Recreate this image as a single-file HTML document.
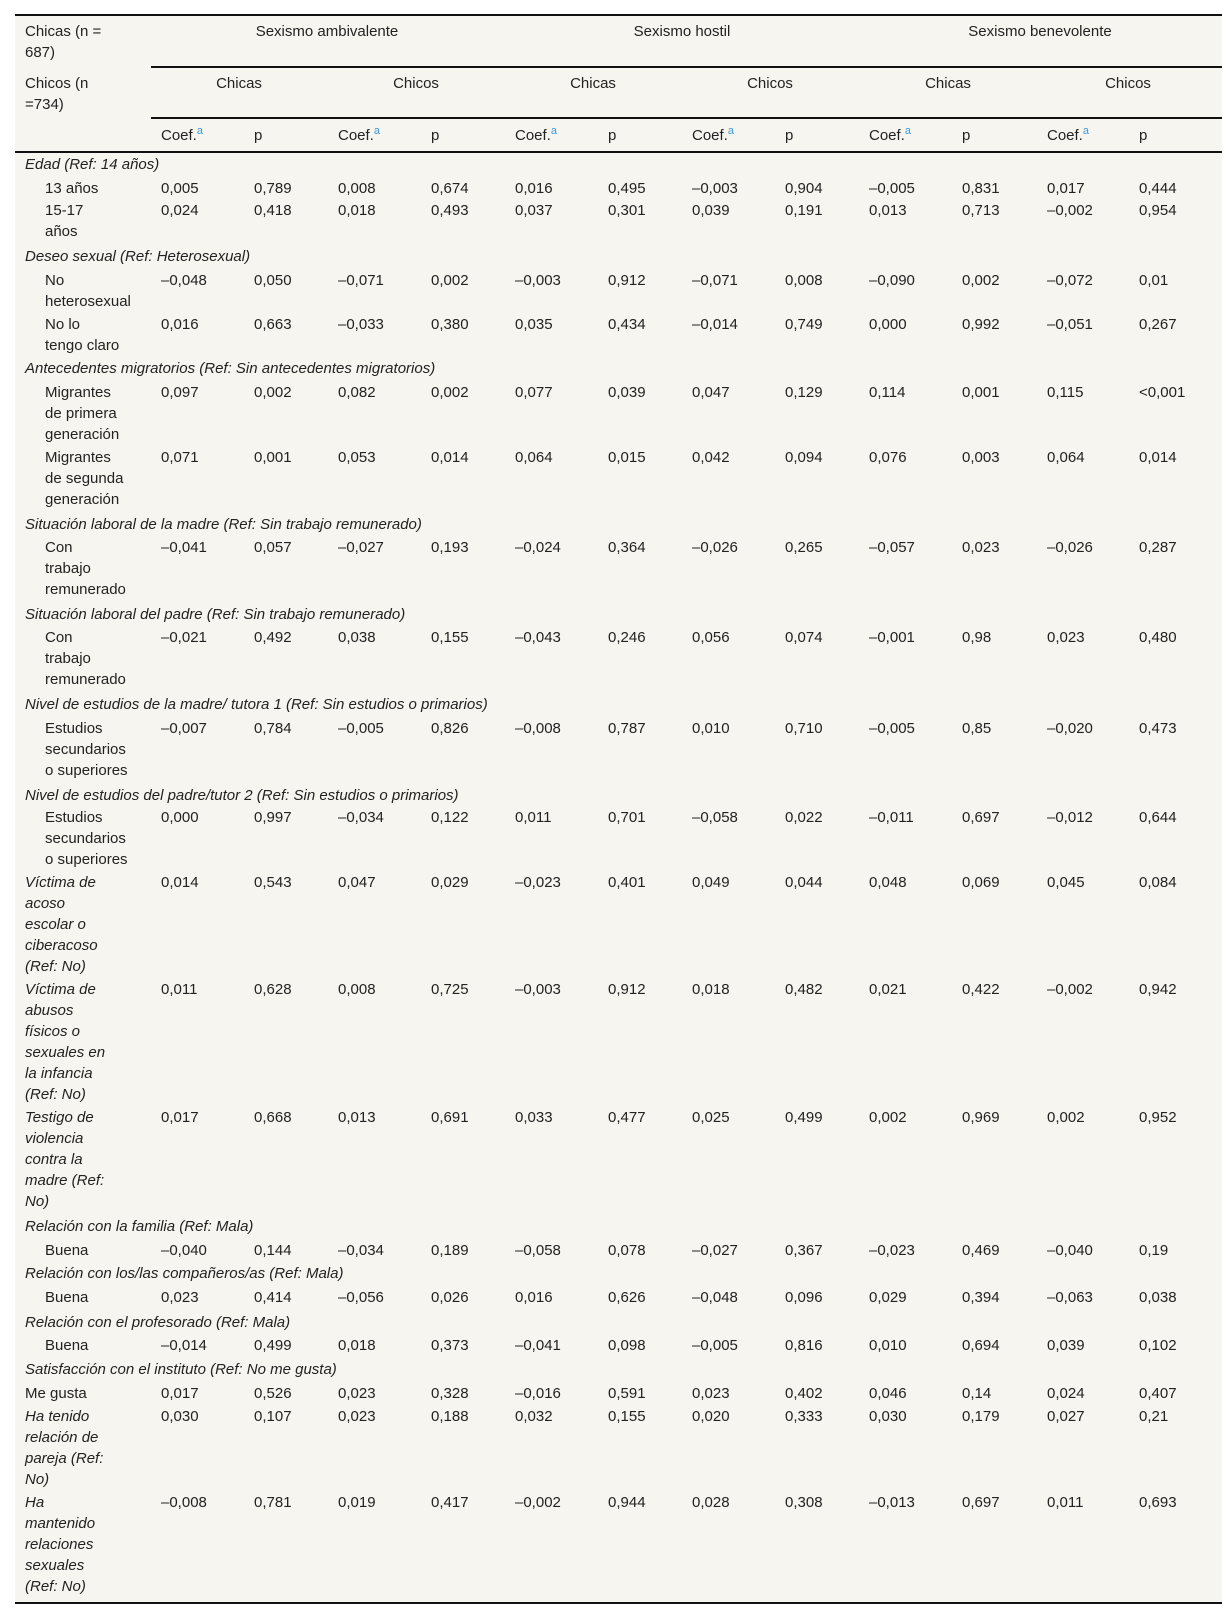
<!DOCTYPE html>
<html><head><meta charset="utf-8">
<style>
html,body{margin:0;padding:0;background:#fff;}
#wrap{position:relative;width:1222px;height:1619px;overflow:hidden;font-family:"Liberation Sans",Arial,sans-serif;font-size:15px;color:#222;}
#bg{position:absolute;left:15px;top:15px;width:1207px;height:1588px;background:#f7f5ef;}
.ln{position:absolute;height:2px;background:#111;}
.t{position:absolute;line-height:21px;white-space:nowrap;}
.c{transform:translateX(-50%);}
.i{font-style:italic;}
sup{color:#3a9ad9;font-size:11px;vertical-align:baseline;position:relative;top:-6px;line-height:0;}
</style></head><body>
<div id="wrap">
<div id="bg"></div>
<div class="ln" style="left:15px;top:14px;width:1207px"></div>
<div class="ln" style="left:151px;top:66px;width:1071px"></div>
<div class="ln" style="left:151px;top:117px;width:1071px"></div>
<div class="ln" style="left:15px;top:151px;width:1207px"></div>
<div class="ln" style="left:15px;top:1602px;width:1207px"></div>
<div class="t" style="left:25px;top:21px">Chicas (n =<br>687)</div>
<div class="t" style="left:25px;top:73px">Chicos (n<br>=734)</div>
<div class="t c" style="left:327px;top:21px">Sexismo ambivalente</div>
<div class="t c" style="left:682px;top:21px">Sexismo hostil</div>
<div class="t c" style="left:1040px;top:21px">Sexismo benevolente</div>
</div>
<script>
const groupCenters=[239,416,593,770,948,1128];
const groupLabels=["Chicas","Chicos","Chicas","Chicos","Chicas","Chicos"];
const colX=[161,254,338,431,515,608,692,785,869,962,1047,1139];
const rows=[
[158,"Edad (Ref: 14 años)","h",null],
[181,"13 años","d",["0,005","0,789","0,008","0,674","0,016","0,495","–0,003","0,904","–0,005","0,831","0,017","0,444"]],
[203,"15-17\naños","d",["0,024","0,418","0,018","0,493","0,037","0,301","0,039","0,191","0,013","0,713","–0,002","0,954"]],
[247,"Deseo sexual (Ref: Heterosexual)","h",null],
[270,"No\nheterosexual","d",["–0,048","0,050","–0,071","0,002","–0,003","0,912","–0,071","0,008","–0,090","0,002","–0,072","0,01"]],
[313,"No lo\ntengo claro","d",["0,016","0,663","–0,033","0,380","0,035","0,434","–0,014","0,749","0,000","0,992","–0,051","0,267"]],
[356,"Antecedentes migratorios (Ref: Sin antecedentes migratorios)","h",null],
[379,"Migrantes\nde primera\ngeneración","d",["0,097","0,002","0,082","0,002","0,077","0,039","0,047","0,129","0,114","0,001","0,115","<0,001"]],
[442,"Migrantes\nde segunda\ngeneración","d",["0,071","0,001","0,053","0,014","0,064","0,015","0,042","0,094","0,076","0,003","0,064","0,014"]],
[507,"Situación laboral de la madre (Ref: Sin trabajo remunerado)","h",null],
[529,"Con\ntrabajo\nremunerado","d",["–0,041","0,057","–0,027","0,193","–0,024","0,364","–0,026","0,265","–0,057","0,023","–0,026","0,287"]],
[594,"Situación laboral del padre (Ref: Sin trabajo remunerado)","h",null],
[616,"Con\ntrabajo\nremunerado","d",["–0,021","0,492","0,038","0,155","–0,043","0,246","0,056","0,074","–0,001","0,98","0,023","0,480"]],
[681,"Nivel de estudios de la madre/ tutora 1 (Ref: Sin estudios o primarios)","h",null],
[704,"Estudios\nsecundarios\no superiores","d",["–0,007","0,784","–0,005","0,826","–0,008","0,787","0,010","0,710","–0,005","0,85","–0,020","0,473"]],
[769,"Nivel de estudios del padre/tutor 2 (Ref: Sin estudios o primarios)","h",null],
[791,"Estudios\nsecundarios\no superiores","d",["0,000","0,997","–0,034","0,122","0,011","0,701","–0,058","0,022","–0,011","0,697","–0,012","0,644"]],
[854,"Víctima de\nacoso\nescolar o\nciberacoso\n(Ref: No)","it",["0,014","0,543","0,047","0,029","–0,023","0,401","0,049","0,044","0,048","0,069","0,045","0,084"]],
[957,"Víctima de\nabusos\nfísicos o\nsexuales en\nla infancia\n(Ref: No)","it",["0,011","0,628","0,008","0,725","–0,003","0,912","0,018","0,482","0,021","0,422","–0,002","0,942"]],
[1081,"Testigo de\nviolencia\ncontra la\nmadre (Ref:\nNo)","it",["0,017","0,668","0,013","0,691","0,033","0,477","0,025","0,499","0,002","0,969","0,002","0,952"]],
[1187,"Relación con la familia (Ref: Mala)","h",null],
[1210,"Buena","d",["–0,040","0,144","–0,034","0,189","–0,058","0,078","–0,027","0,367","–0,023","0,469","–0,040","0,19"]],
[1233,"Relación con los/las compañeros/as (Ref: Mala)","h",null],
[1256,"Buena","d",["0,023","0,414","–0,056","0,026","0,016","0,626","–0,048","0,096","0,029","0,394","–0,063","0,038"]],
[1280,"Relación con el profesorado (Ref: Mala)","h",null],
[1302,"Buena","d",["–0,014","0,499","0,018","0,373","–0,041","0,098","–0,005","0,816","0,010","0,694","0,039","0,102"]],
[1326,"Satisfacción con el instituto (Ref: No me gusta)","h",null],
[1349,"Me gusta","p",["0,017","0,526","0,023","0,328","–0,016","0,591","0,023","0,402","0,046","0,14","0,024","0,407"]],
[1371,"Ha tenido\nrelación de\npareja (Ref:\nNo)","it",["0,030","0,107","0,023","0,188","0,032","0,155","0,020","0,333","0,030","0,179","0,027","0,21"]],
[1454,"Ha\nmantenido\nrelaciones\nsexuales\n(Ref: No)","it",["–0,008","0,781","0,019","0,417","–0,002","0,944","0,028","0,308","–0,013","0,697","0,011","0,693"]]
];
const W=document.getElementById('wrap');
function Y(y){return y*1.032+1.5-10.5;}
groupLabels.forEach(function(g,k){
  const d=document.createElement('div');
  d.className='t c';d.style.left=groupCenters[k]+'px';d.style.top='73px';d.textContent=g;
  
  
  W.appendChild(d);
});
colX.forEach(function(x,k){
  const d=document.createElement('div');
  d.className='t';d.style.left=x+'px';d.style.top='125px';
  d.innerHTML=(k%2===0)?'Coef.<sup>a</sup>':'p';
  
  
  W.appendChild(d);
});
rows.forEach(function(r){
  const top=Y(r[0]);
  const l=document.createElement('div');
  l.className='t'+((r[2]==='h'||r[2]==='it')?' i':'');
  l.style.left=(r[2]==='d'?45:25)+'px';
  l.style.top=top+'px';
  l.innerHTML=r[1].split('\n').join('<br>');
  
  
  W.appendChild(l);
  if(r[3]){
    r[3].forEach(function(v,k){
      const c=document.createElement('div');
      c.className='t';c.style.left=colX[k]+'px';c.style.top=top+'px';c.textContent=v;
      
      
      W.appendChild(c);
    });
  }
});
</script>
</body></html>
